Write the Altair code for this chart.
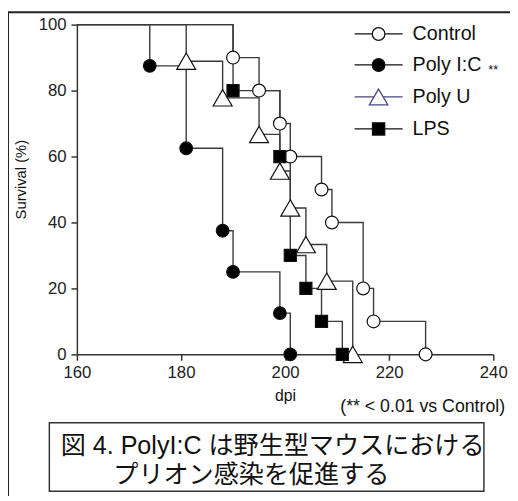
import altair as alt
import pandas as pd

# ---------------- data ----------------
series_names = ["Control", "Poly I:C", "Poly U", "LPS"]

control_dpi = [190, 195, 199, 201, 207, 209, 215, 217, 227]
control_surv = [90, 80, 70, 60, 50, 40, 20, 10, 0]

polyic_dpi = [174, 181, 188, 190, 199, 201]
polyic_surv = [87.5, 62.5, 37.5, 25, 12.5, 0]

polyu_dpi = [181, 188, 195, 199, 201, 204, 208, 213]
polyu_surv = [88.9, 77.8, 66.7, 55.6, 44.4, 33.3, 22.2, 0]

lps_dpi = [190, 199, 201, 204, 207, 211]
lps_surv = [80, 60, 30, 20, 10, 0]

start_dpi = 160
start_surv = 100

x_ticks = [160, 180, 200, 220, 240]
y_ticks = [0, 20, 40, 60, 80, 100]

note_text = "(** < 0.01 vs Control)"
caption_line1 = "図 4. PolyI:C は野生型マウスにおける"
caption_line2 = "プリオン感染を促進する"

# ---------------- styles ----------------
FONT = "Liberation Sans, Arial, Helvetica, sans-serif"
CJK_FONT = "Liberation Sans, Noto Sans CJK JP, sans-serif"
LINE_C = "#3a3a3a"
MARK_C = "#111111"

shape_map = {"Control": "circle", "Poly I:C": "circle", "Poly U": "triangle-up", "LPS": "square"}
fill_map = {"Control": "white", "Poly I:C": "black", "Poly U": "white", "LPS": "black"}
size_map = {"Control": 170, "Poly I:C": 165, "Poly U": 370, "LPS": 150}

all_series = [
    ("Control", control_dpi, control_surv),
    ("Poly I:C", polyic_dpi, polyic_surv),
    ("Poly U", polyu_dpi, polyu_surv),
    ("LPS", lps_dpi, lps_surv),
]

line_rows, pt_rows = [], []
for name, xs, ys in all_series:
    line_rows.append({"series": name, "dpi": start_dpi, "surv": start_surv, "ord": 0})
    for i, (x, y) in enumerate(zip(xs, ys)):
        line_rows.append({"series": name, "dpi": x, "surv": y, "ord": i + 1})
        pt_rows.append({"series": name, "dpi": x, "surv": y,
                        "shp": shape_map[name], "fillc": fill_map[name], "sz": size_map[name]})
line_df = pd.DataFrame(line_rows)
pt_df = pd.DataFrame(pt_rows)

W, H = 423, 335

xscale = alt.Scale(domain=[160, 240], nice=False, zero=False)
yscale = alt.Scale(domain=[0, 100], nice=False)

x_axis = alt.Axis(values=x_ticks, format="d", title="dpi", titleFontSize=16,
                  titleFontWeight="normal", titleFont=FONT, titleColor="#111",
                  titleY=42, titleBaseline="middle",
                  labelFontSize=17, labelFont=FONT, labelColor="#222", labelPadding=5,
                  tickSize=6, tickWidth=1.5, tickColor="#333",
                  domainColor="#333", domainWidth=1.5, grid=False, labelFlush=False)
y_axis = alt.Axis(values=y_ticks, format="d", title="Survival (%)", titleFontSize=15,
                  titleFontWeight="normal", titleFont=FONT, titleColor="#111",
                  titleX=-57, titleY=157, titleAngle=-90, titleAlign="center",
                  titleBaseline="middle",
                  labelFontSize=17, labelFont=FONT, labelColor="#222", labelPadding=5,
                  tickSize=6, tickWidth=1.5, tickColor="#333",
                  domainColor="#333", domainWidth=1.5, grid=False)

lines = alt.Chart(line_df).mark_line(interpolate="step-after", color=LINE_C, strokeWidth=1.4).encode(
    x=alt.X("dpi:Q", scale=xscale, axis=x_axis),
    y=alt.Y("surv:Q", scale=yscale, axis=y_axis),
    detail="series:N",
    order="ord:Q",
)

points = alt.Chart(pt_df).mark_point(opacity=1, strokeWidth=1.2, stroke=MARK_C).encode(
    x=alt.X("dpi:Q", scale=xscale),
    y=alt.Y("surv:Q", scale=yscale),
    shape=alt.Shape("shp:N", scale=None),
    fill=alt.Fill("fillc:N", scale=None),
    size=alt.Size("sz:Q", scale=None),
)

# legend symbols: line + marker (custom paths, unit = sqrt(64)/2 = 4 px)
L = 6.1
r = 1.6
path_circle = f"M{-L},0H{-r}M{r},0H{L}M{-r},0A{r},{r} 0 1 1 {r},0A{r},{r} 0 1 1 {-r},0Z"
tw, th = 2.35, 2.0
path_tri = f"M{-L},0H{-tw/2}M{tw/2},0H{L}M0,{-th}L{tw},{th}L{-tw},{th}Z"
s = 1.55
path_sq = f"M{-L},0H{-s}M{s},0H{L}M{-s},{-s}H{s}V{s}H{-s}Z"

legend_paths = [path_circle, path_circle, path_tri, path_sq]
legend_fills = ["white", "black", "white", "black"]
legend_strokes = [MARK_C, MARK_C, "#4a4a7a", MARK_C]

leg = alt.Legend(title=None, orient="none", legendX=296.5, legendY=-0.5,
                 labelFontSize=20, labelFont=FONT, labelColor="#111",
                 labelOffset=24.5, rowPadding=11.5, symbolSize=64, symbolStrokeWidth=1.3,
                 labelLimit=300)

legend_layer = alt.Chart(pd.DataFrame({"series": series_names})).mark_point(
    opacity=1, size=64, strokeWidth=1.3).encode(
    x=alt.value(-600), y=alt.value(-600),
    shape=alt.Shape("series:N", scale=alt.Scale(domain=series_names, range=legend_paths), legend=leg),
    fill=alt.Fill("series:N", scale=alt.Scale(domain=series_names, range=legend_fills), legend=leg),
    stroke=alt.Stroke("series:N", scale=alt.Scale(domain=series_names, range=legend_strokes), legend=leg),
)

stars = alt.Chart(pd.DataFrame({"t": ["**"]})).mark_text(
    fontSize=13, font=FONT, align="left", baseline="middle", color="#111").encode(
    text="t:N", x=alt.value(418), y=alt.value(46))

note = alt.Chart(pd.DataFrame({"t": [note_text]})).mark_text(
    fontSize=18, font=FONT, align="right", baseline="middle", color="#111").encode(
    text="t:N", x=alt.value(435), y=alt.value(389))

box = alt.Chart(pd.DataFrame({"t": ["box"]})).mark_rect(
    fill="white", stroke="#333", strokeWidth=1.5).encode(
    x=alt.value(-28), x2=alt.value(413.5), y=alt.value(404.5), y2=alt.value(474))

cap1 = alt.Chart(pd.DataFrame({"t": [caption_line1]})).mark_text(
    fontSize=25.5, font=CJK_FONT, align="left", baseline="middle", color="#111").encode(
    text="t:N", x=alt.value(-16.5), y=alt.value(428.5))
cap2 = alt.Chart(pd.DataFrame({"t": [caption_line2]})).mark_text(
    fontSize=25.5, font=CJK_FONT, align="left", baseline="middle", color="#111").encode(
    text="t:N", x=alt.value(37), y=alt.value(458))

frame_top = alt.Chart(pd.DataFrame({"t": ["f"]})).mark_rule(color="#222", strokeWidth=2).encode(
    x=alt.value(-70), x2=alt.value(440), y=alt.value(-12.5))
frame_left = alt.Chart(pd.DataFrame({"t": ["f"]})).mark_rule(color="#222", strokeWidth=2).encode(
    x=alt.value(-70), y=alt.value(-13), y2=alt.value(480))

chart = alt.layer(
    frame_top, frame_left, lines, points, legend_layer, stars, note, box, cap1, cap2
).properties(
    width=W, height=H,
    padding={"left": 70, "top": 13, "right": 17, "bottom": 140},
    autosize=alt.AutoSizeParams(type="none"),
    background="white",
).configure_view(stroke=None)

chart.save("out.html", embed_options={"renderer": "svg", "actions": False})
